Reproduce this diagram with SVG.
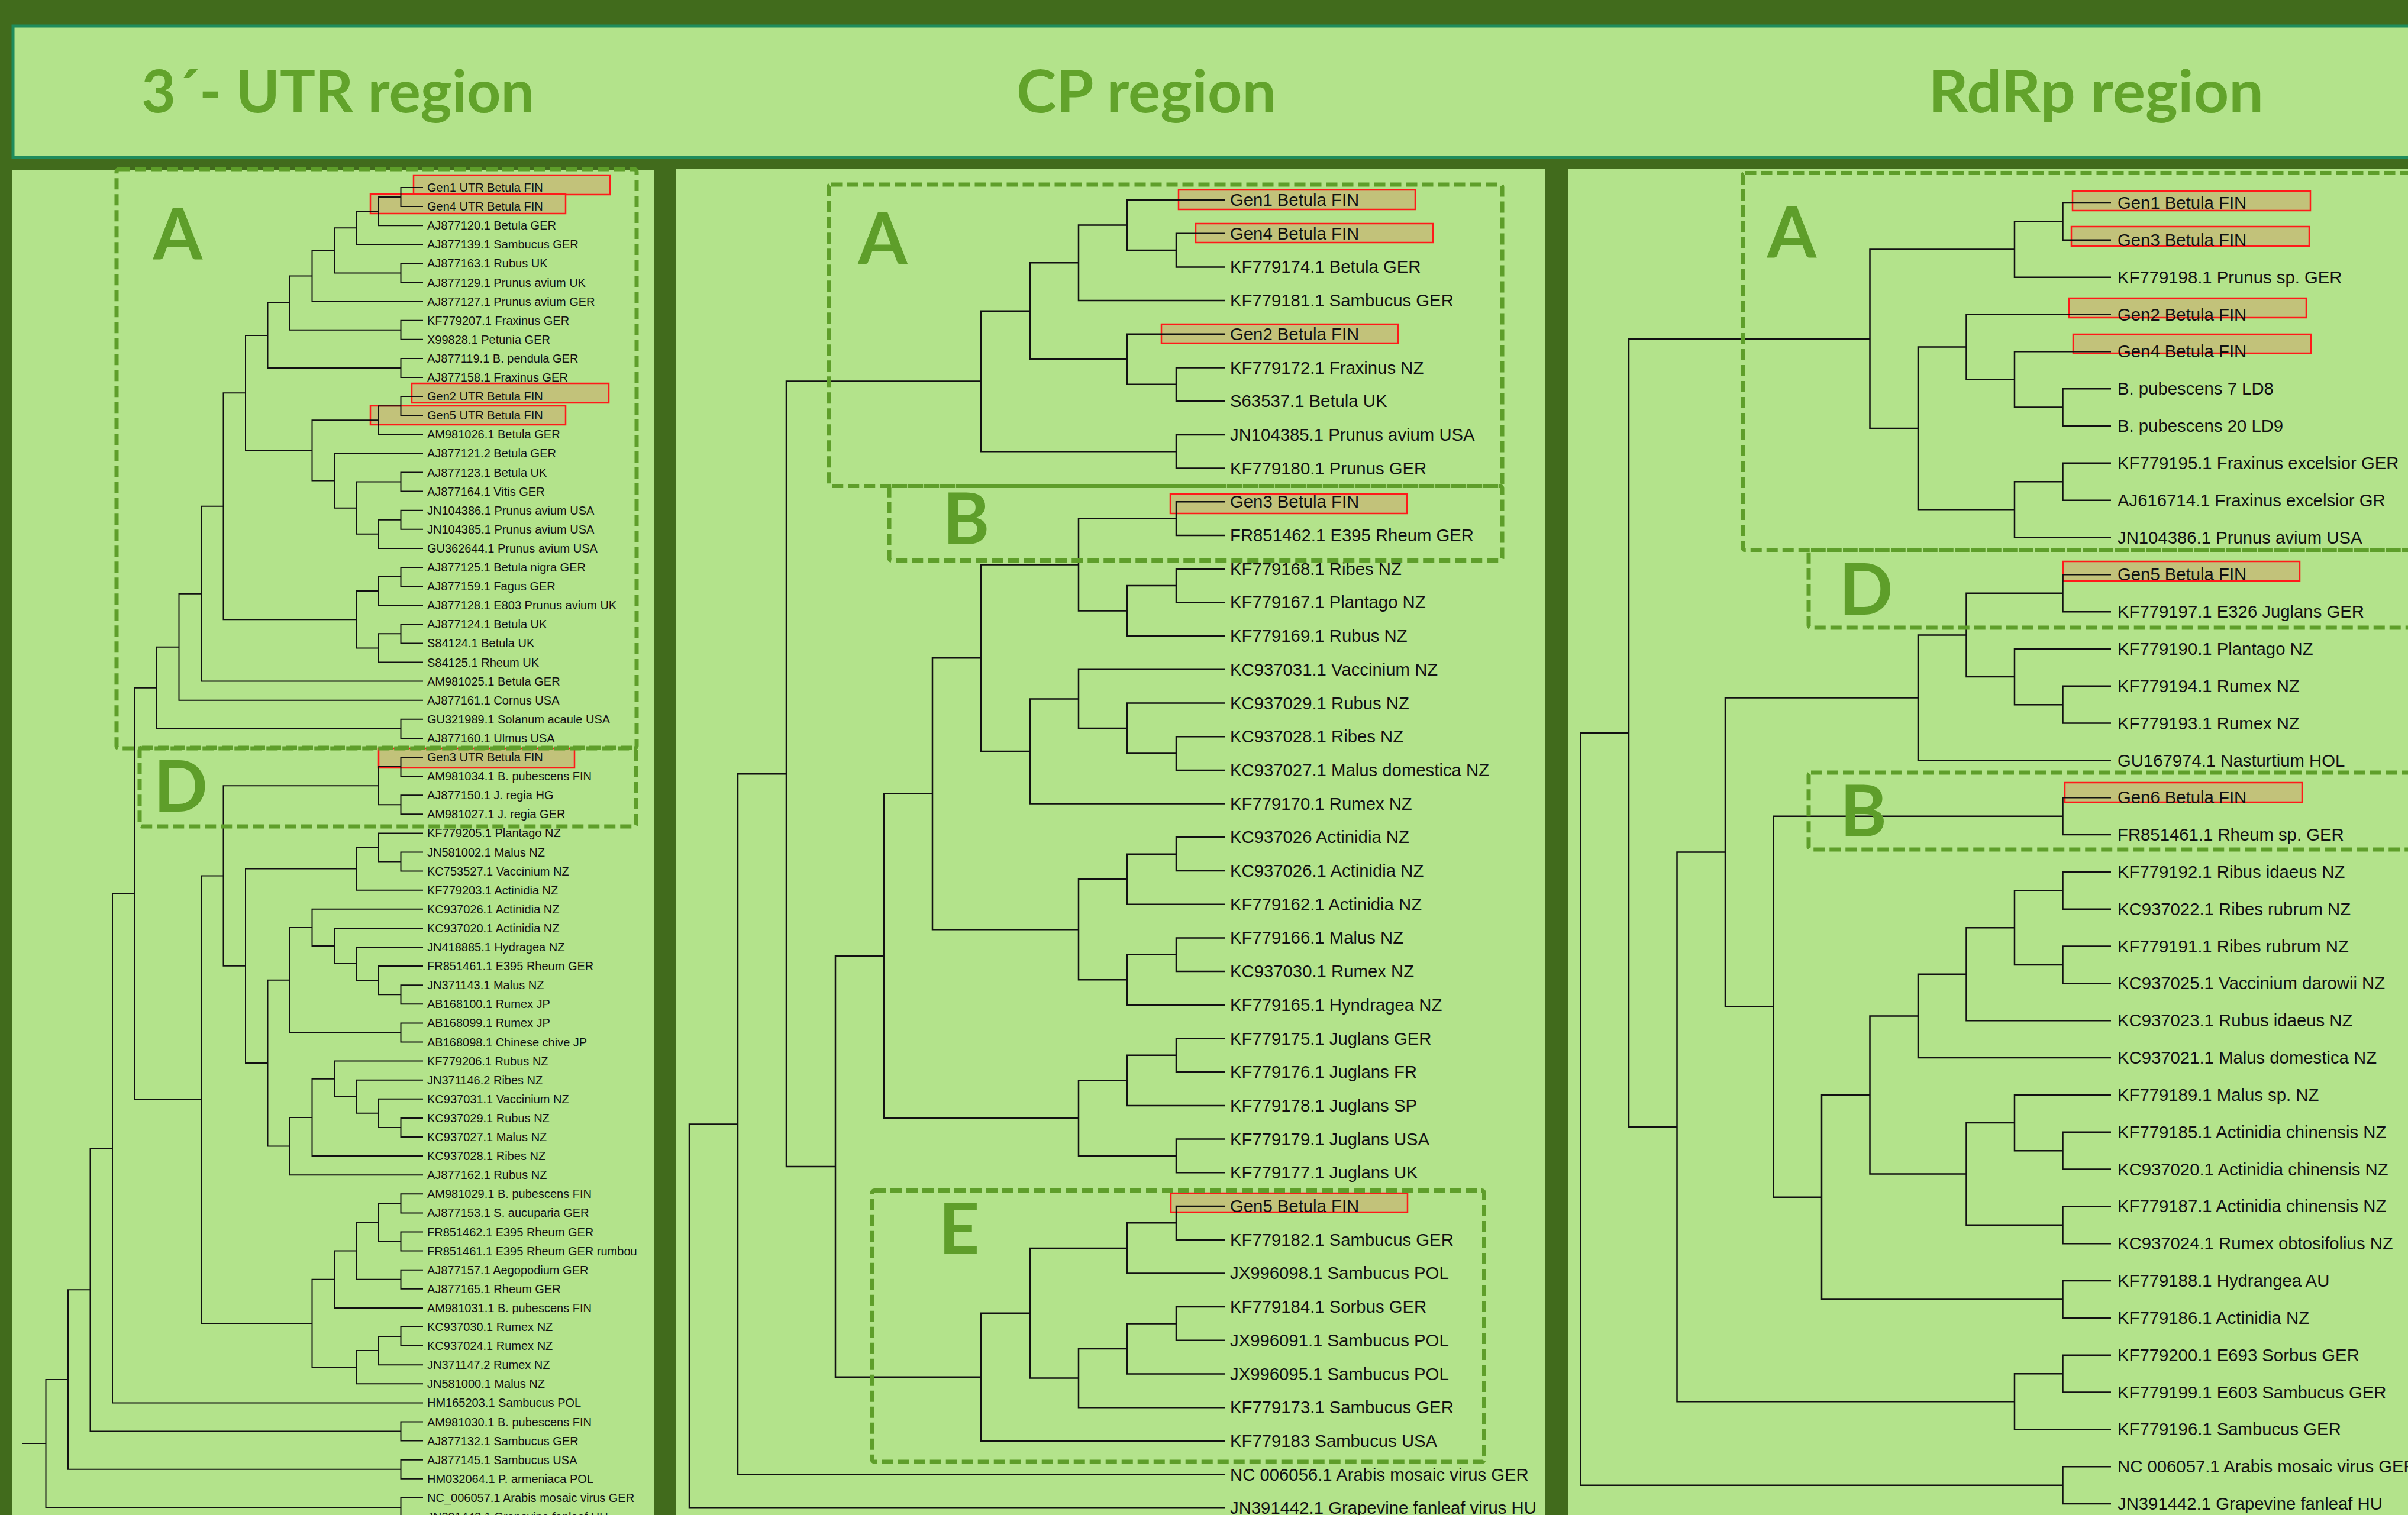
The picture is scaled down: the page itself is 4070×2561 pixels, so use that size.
<svg xmlns="http://www.w3.org/2000/svg" width="4070" height="2561" viewBox="0 0 4070 2561">
<style>
.tl{fill:none;stroke:#111;stroke-linejoin:miter}
.t1{font-family:"Liberation Sans",Arial,sans-serif;font-size:20px;fill:#111}
.t2{font-family:"Liberation Sans",Arial,sans-serif;font-size:29.3px;fill:#111}
.hl{fill:#c2c27a;stroke:#ff1a1a;stroke-width:2.5}
.db{fill:none;stroke:#5e9e2a;stroke-width:7;stroke-dasharray:19 8}
.cl{font-family:Lato,"Liberation Sans",sans-serif;font-weight:bold;font-size:120px;fill:#5e9e2a;text-anchor:middle}
.ti{font-family:Lato,"Liberation Sans",sans-serif;font-weight:bold;font-size:99px;fill:#62a32b}
.pn{fill:#b3e38b}
</style>
<rect x="0" y="0" width="4070" height="2561" fill="#416b1c"/>
<g id="header">
<rect x="22" y="44" width="4100" height="222" fill="#b3e38b" stroke="#1f8c5c" stroke-width="5"/>
<text class="ti" x="239" y="190" textLength="664" lengthAdjust="spacingAndGlyphs">3´- UTR region</text>
<text class="ti" x="1718" y="190" textLength="439" lengthAdjust="spacingAndGlyphs">CP region</text>
<text class="ti" x="3260" y="190" textLength="566" lengthAdjust="spacingAndGlyphs">RdRp region</text>
</g>
<g id="panels">
<rect class="pn" x="21" y="288" width="1084" height="2280"/>
<rect class="pn" x="1142" y="286" width="1469" height="2280"/>
<rect class="pn" x="2650" y="286" width="1430" height="2280"/>
</g>

<g id="utr-labels" class="t1">
<g id="utr-0"><rect class="hl" x="699" y="296" width="332" height="33"/><text x="722" y="324">Gen1 UTR Betula FIN</text></g>
<g id="utr-1"><rect class="hl" x="626" y="328" width="330" height="33"/><text x="722" y="356.1">Gen4 UTR Betula FIN</text></g>
<g id="utr-2"><text x="722" y="388.2">AJ877120.1 Betula GER</text></g>
<g id="utr-3"><text x="722" y="420.3">AJ877139.1 Sambucus GER</text></g>
<g id="utr-4"><text x="722" y="452.4">AJ877163.1 Rubus UK</text></g>
<g id="utr-5"><text x="722" y="484.5">AJ877129.1 Prunus avium UK</text></g>
<g id="utr-6"><text x="722" y="516.6">AJ877127.1 Prunus avium GER</text></g>
<g id="utr-7"><text x="722" y="548.7">KF779207.1 Fraxinus GER</text></g>
<g id="utr-8"><text x="722" y="580.8">X99828.1 Petunia GER</text></g>
<g id="utr-9"><text x="722" y="612.9">AJ877119.1 B. pendula GER</text></g>
<g id="utr-10"><text x="722" y="645">AJ877158.1 Fraxinus GER</text></g>
<g id="utr-11"><rect class="hl" x="696" y="648" width="333" height="33"/><text x="722" y="677.1">Gen2 UTR Betula FIN</text></g>
<g id="utr-12"><rect class="hl" x="626" y="686" width="330" height="32"/><text x="722" y="709.2">Gen5 UTR Betula FIN</text></g>
<g id="utr-13"><text x="722" y="741.3">AM981026.1 Betula GER</text></g>
<g id="utr-14"><text x="722" y="773.4">AJ877121.2 Betula GER</text></g>
<g id="utr-15"><text x="722" y="805.5">AJ877123.1 Betula UK</text></g>
<g id="utr-16"><text x="722" y="837.6">AJ877164.1 Vitis GER</text></g>
<g id="utr-17"><text x="722" y="869.7">JN104386.1 Prunus avium USA</text></g>
<g id="utr-18"><text x="722" y="901.8">JN104385.1 Prunus avium USA</text></g>
<g id="utr-19"><text x="722" y="933.9">GU362644.1 Prunus avium USA</text></g>
<g id="utr-20"><text x="722" y="966">AJ877125.1 Betula nigra GER</text></g>
<g id="utr-21"><text x="722" y="998.1">AJ877159.1 Fagus GER</text></g>
<g id="utr-22"><text x="722" y="1030.2">AJ877128.1 E803 Prunus avium UK</text></g>
<g id="utr-23"><text x="722" y="1062.3">AJ877124.1 Betula UK</text></g>
<g id="utr-24"><text x="722" y="1094.4">S84124.1 Betula UK</text></g>
<g id="utr-25"><text x="722" y="1126.5">S84125.1 Rheum UK</text></g>
<g id="utr-26"><text x="722" y="1158.6">AM981025.1 Betula GER</text></g>
<g id="utr-27"><text x="722" y="1190.7">AJ877161.1 Cornus USA</text></g>
<g id="utr-28"><text x="722" y="1222.8">GU321989.1 Solanum acaule USA</text></g>
<g id="utr-29"><text x="722" y="1254.9">AJ877160.1 Ulmus USA</text></g>
<g id="utr-30"><rect class="hl" x="640" y="1265" width="331" height="33"/><text x="722" y="1287">Gen3 UTR Betula FIN</text></g>
<g id="utr-31"><text x="722" y="1319.1">AM981034.1 B. pubescens FIN</text></g>
<g id="utr-32"><text x="722" y="1351.2">AJ877150.1 J. regia HG</text></g>
<g id="utr-33"><text x="722" y="1383.3">AM981027.1 J. regia GER</text></g>
<g id="utr-34"><text x="722" y="1415.4">KF779205.1 Plantago NZ</text></g>
<g id="utr-35"><text x="722" y="1447.5">JN581002.1 Malus NZ</text></g>
<g id="utr-36"><text x="722" y="1479.6">KC753527.1 Vaccinium NZ</text></g>
<g id="utr-37"><text x="722" y="1511.7">KF779203.1 Actinidia NZ</text></g>
<g id="utr-38"><text x="722" y="1543.8">KC937026.1 Actinidia NZ</text></g>
<g id="utr-39"><text x="722" y="1575.9">KC937020.1 Actinidia NZ</text></g>
<g id="utr-40"><text x="722" y="1608">JN418885.1 Hydragea NZ</text></g>
<g id="utr-41"><text x="722" y="1640.1">FR851461.1 E395 Rheum GER</text></g>
<g id="utr-42"><text x="722" y="1672.2">JN371143.1 Malus NZ</text></g>
<g id="utr-43"><text x="722" y="1704.3">AB168100.1 Rumex JP</text></g>
<g id="utr-44"><text x="722" y="1736.4">AB168099.1 Rumex JP</text></g>
<g id="utr-45"><text x="722" y="1768.5">AB168098.1 Chinese chive JP</text></g>
<g id="utr-46"><text x="722" y="1800.6">KF779206.1 Rubus NZ</text></g>
<g id="utr-47"><text x="722" y="1832.7">JN371146.2 Ribes NZ</text></g>
<g id="utr-48"><text x="722" y="1864.8">KC937031.1 Vaccinium NZ</text></g>
<g id="utr-49"><text x="722" y="1896.9">KC937029.1 Rubus NZ</text></g>
<g id="utr-50"><text x="722" y="1929">KC937027.1 Malus NZ</text></g>
<g id="utr-51"><text x="722" y="1961.1">KC937028.1 Ribes NZ</text></g>
<g id="utr-52"><text x="722" y="1993.2">AJ877162.1 Rubus NZ</text></g>
<g id="utr-53"><text x="722" y="2025.3">AM981029.1 B. pubescens FIN</text></g>
<g id="utr-54"><text x="722" y="2057.4">AJ877153.1 S. aucuparia GER</text></g>
<g id="utr-55"><text x="722" y="2089.5">FR851462.1 E395 Rheum GER</text></g>
<g id="utr-56"><text x="722" y="2121.6">FR851461.1 E395 Rheum GER rumbou</text></g>
<g id="utr-57"><text x="722" y="2153.7">AJ877157.1 Aegopodium GER</text></g>
<g id="utr-58"><text x="722" y="2185.8">AJ877165.1 Rheum GER</text></g>
<g id="utr-59"><text x="722" y="2217.9">AM981031.1 B. pubescens FIN</text></g>
<g id="utr-60"><text x="722" y="2250">KC937030.1 Rumex NZ</text></g>
<g id="utr-61"><text x="722" y="2282.1">KC937024.1 Rumex NZ</text></g>
<g id="utr-62"><text x="722" y="2314.2">JN371147.2 Rumex NZ</text></g>
<g id="utr-63"><text x="722" y="2346.3">JN581000.1 Malus NZ</text></g>
<g id="utr-64"><text x="722" y="2378.4">HM165203.1 Sambucus POL</text></g>
<g id="utr-65"><text x="722" y="2410.5">AM981030.1 B. pubescens FIN</text></g>
<g id="utr-66"><text x="722" y="2442.6">AJ877132.1 Sambucus GER</text></g>
<g id="utr-67"><text x="722" y="2474.7">AJ877145.1 Sambucus USA</text></g>
<g id="utr-68"><text x="722" y="2506.8">HM032064.1 P. armeniaca POL</text></g>
<g id="utr-69"><text x="722" y="2538.9">NC_006057.1 Arabis mosaic virus GER</text></g>
<g id="utr-70"><text x="722" y="2571">JN391442.1 Grapevine fanleaf HU</text></g>
</g>

<g id="cp-labels" class="t2">
<g id="cp-0"><rect class="hl" x="1992" y="321" width="400" height="33"/><text x="2079" y="348">Gen1 Betula FIN</text></g>
<g id="cp-1"><rect class="hl" x="2021" y="378" width="401" height="32"/><text x="2079" y="404.7">Gen4 Betula FIN</text></g>
<g id="cp-2"><text x="2079" y="461.4">KF779174.1 Betula GER</text></g>
<g id="cp-3"><text x="2079" y="518.1">KF779181.1 Sambucus GER</text></g>
<g id="cp-4"><rect class="hl" x="1963" y="548" width="400" height="32"/><text x="2079" y="574.8">Gen2 Betula FIN</text></g>
<g id="cp-5"><text x="2079" y="631.5">KF779172.1 Fraxinus NZ</text></g>
<g id="cp-6"><text x="2079" y="688.2">S63537.1 Betula UK</text></g>
<g id="cp-7"><text x="2079" y="744.9">JN104385.1 Prunus avium USA</text></g>
<g id="cp-8"><text x="2079" y="801.6">KF779180.1 Prunus GER</text></g>
<g id="cp-9"><rect class="hl" x="1978" y="835" width="400" height="33"/><text x="2079" y="858.3">Gen3 Betula FIN</text></g>
<g id="cp-10"><text x="2079" y="915">FR851462.1 E395 Rheum GER</text></g>
<g id="cp-11"><text x="2079" y="971.7">KF779168.1 Ribes NZ</text></g>
<g id="cp-12"><text x="2079" y="1028.4">KF779167.1 Plantago NZ</text></g>
<g id="cp-13"><text x="2079" y="1085.1">KF779169.1 Rubus NZ</text></g>
<g id="cp-14"><text x="2079" y="1141.8">KC937031.1 Vaccinium NZ</text></g>
<g id="cp-15"><text x="2079" y="1198.5">KC937029.1 Rubus NZ</text></g>
<g id="cp-16"><text x="2079" y="1255.2">KC937028.1 Ribes NZ</text></g>
<g id="cp-17"><text x="2079" y="1311.9">KC937027.1 Malus domestica NZ</text></g>
<g id="cp-18"><text x="2079" y="1368.6">KF779170.1 Rumex NZ</text></g>
<g id="cp-19"><text x="2079" y="1425.3">KC937026 Actinidia NZ</text></g>
<g id="cp-20"><text x="2079" y="1482">KC937026.1 Actinidia NZ</text></g>
<g id="cp-21"><text x="2079" y="1538.7">KF779162.1 Actinidia NZ</text></g>
<g id="cp-22"><text x="2079" y="1595.4">KF779166.1 Malus NZ</text></g>
<g id="cp-23"><text x="2079" y="1652.1">KC937030.1 Rumex NZ</text></g>
<g id="cp-24"><text x="2079" y="1708.8">KF779165.1 Hyndragea NZ</text></g>
<g id="cp-25"><text x="2079" y="1765.5">KF779175.1 Juglans GER</text></g>
<g id="cp-26"><text x="2079" y="1822.2">KF779176.1 Juglans FR</text></g>
<g id="cp-27"><text x="2079" y="1878.9">KF779178.1 Juglans SP</text></g>
<g id="cp-28"><text x="2079" y="1935.6">KF779179.1 Juglans USA</text></g>
<g id="cp-29"><text x="2079" y="1992.3">KF779177.1 Juglans UK</text></g>
<g id="cp-30"><rect class="hl" x="1979" y="2017" width="400" height="32"/><text x="2079" y="2049">Gen5 Betula FIN</text></g>
<g id="cp-31"><text x="2079" y="2105.7">KF779182.1 Sambucus GER</text></g>
<g id="cp-32"><text x="2079" y="2162.4">JX996098.1 Sambucus POL</text></g>
<g id="cp-33"><text x="2079" y="2219.1">KF779184.1 Sorbus GER</text></g>
<g id="cp-34"><text x="2079" y="2275.8">JX996091.1 Sambucus POL</text></g>
<g id="cp-35"><text x="2079" y="2332.5">JX996095.1 Sambucus POL</text></g>
<g id="cp-36"><text x="2079" y="2389.2">KF779173.1 Sambucus GER</text></g>
<g id="cp-37"><text x="2079" y="2445.9">KF779183 Sambucus USA</text></g>
<g id="cp-38"><text x="2079" y="2502.6">NC 006056.1 Arabis mosaic virus GER</text></g>
<g id="cp-39"><text x="2079" y="2559.3">JN391442.1 Grapevine fanleaf virus HU</text></g>
</g>

<g id="rdrp-labels" class="t2">
<g id="rd-0"><rect class="hl" x="3503" y="323" width="402" height="33"/><text x="3579" y="353">Gen1 Betula FIN</text></g>
<g id="rd-1"><rect class="hl" x="3501" y="383" width="402" height="33"/><text x="3579" y="415.8">Gen3 Betula FIN</text></g>
<g id="rd-2"><text x="3579" y="478.7">KF779198.1 Prunus sp. GER</text></g>
<g id="rd-3"><rect class="hl" x="3497" y="504" width="401" height="33"/><text x="3579" y="541.5">Gen2 Betula FIN</text></g>
<g id="rd-4"><rect class="hl" x="3504" y="565" width="402" height="32"/><text x="3579" y="604.3">Gen4 Betula FIN</text></g>
<g id="rd-5"><text x="3579" y="667.2">B. pubescens 7 LD8</text></g>
<g id="rd-6"><text x="3579" y="730">B. pubescens 20 LD9</text></g>
<g id="rd-7"><text x="3579" y="792.8">KF779195.1 Fraxinus excelsior GER</text></g>
<g id="rd-8"><text x="3579" y="855.6">AJ616714.1 Fraxinus excelsior GR</text></g>
<g id="rd-9"><text x="3579" y="918.5">JN104386.1 Prunus avium USA</text></g>
<g id="rd-10"><rect class="hl" x="3487" y="949" width="400" height="33"/><text x="3579" y="981.3">Gen5 Betula FIN</text></g>
<g id="rd-11"><text x="3579" y="1044.1">KF779197.1 E326 Juglans GER</text></g>
<g id="rd-12"><text x="3579" y="1107">KF779190.1 Plantago NZ</text></g>
<g id="rd-13"><text x="3579" y="1169.8">KF779194.1 Rumex NZ</text></g>
<g id="rd-14"><text x="3579" y="1232.6">KF779193.1 Rumex NZ</text></g>
<g id="rd-15"><text x="3579" y="1295.5">GU167974.1 Nasturtium HOL</text></g>
<g id="rd-16"><rect class="hl" x="3490" y="1323" width="401" height="33"/><text x="3579" y="1358.3">Gen6 Betula FIN</text></g>
<g id="rd-17"><text x="3579" y="1421.1">FR851461.1 Rheum sp. GER</text></g>
<g id="rd-18"><text x="3579" y="1483.9">KF779192.1 Ribus idaeus NZ</text></g>
<g id="rd-19"><text x="3579" y="1546.8">KC937022.1 Ribes rubrum NZ</text></g>
<g id="rd-20"><text x="3579" y="1609.6">KF779191.1 Ribes rubrum NZ</text></g>
<g id="rd-21"><text x="3579" y="1672.4">KC937025.1 Vaccinium darowii NZ</text></g>
<g id="rd-22"><text x="3579" y="1735.3">KC937023.1 Rubus idaeus NZ</text></g>
<g id="rd-23"><text x="3579" y="1798.1">KC937021.1 Malus domestica NZ</text></g>
<g id="rd-24"><text x="3579" y="1860.9">KF779189.1 Malus sp. NZ</text></g>
<g id="rd-25"><text x="3579" y="1923.8">KF779185.1 Actinidia chinensis NZ</text></g>
<g id="rd-26"><text x="3579" y="1986.6">KC937020.1 Actinidia chinensis NZ</text></g>
<g id="rd-27"><text x="3579" y="2049.4">KF779187.1 Actinidia chinensis NZ</text></g>
<g id="rd-28"><text x="3579" y="2112.2">KC937024.1 Rumex obtosifolius NZ</text></g>
<g id="rd-29"><text x="3579" y="2175.1">KF779188.1 Hydrangea AU</text></g>
<g id="rd-30"><text x="3579" y="2237.9">KF779186.1 Actinidia NZ</text></g>
<g id="rd-31"><text x="3579" y="2300.7">KF779200.1 E693 Sorbus GER</text></g>
<g id="rd-32"><text x="3579" y="2363.6">KF779199.1 E603 Sambucus GER</text></g>
<g id="rd-33"><text x="3579" y="2426.4">KF779196.1 Sambucus GER</text></g>
<g id="rd-34"><text x="3579" y="2489.2">NC 006057.1 Arabis mosaic virus GER</text></g>
<g id="rd-35"><text x="3579" y="2552.1">JN391442.1 Grapevine fanleaf HU</text></g>
</g>

<g id="connectors">
<g transform="translate(0,317) scale(1,32.1)">
<path class="tl" vector-effect="non-scaling-stroke" stroke-width="2" d="M715,0H677.5V1H715 M677.5,0.5H640V2H715 M640,1.25H602.5V3H715 M715,4H677.5V5H715 M602.5,2.125H565V4.5H677.5 M565,3.3125H527.5V6H715 M715,7H677.5V8H715 M527.5,4.65625H490V7.5H677.5 M715,9H677.5V10H715 M490,6.078125H452.5V9.5H677.5 M715,11H677.5V12H715 M677.5,11.5H640V13H715 M715,15H677.5V16H715 M715,17H677.5V18H715 M677.5,17.5H640V19H715 M677.5,15.5H602.5V18.25H640 M715,14H565V16.875H602.5 M640,12.25H527.5V15.4375H565 M452.5,7.7890625H415V13.84375H527.5 M715,20H677.5V21H715 M677.5,20.5H640V22H715 M715,23H677.5V24H715 M677.5,23.5H640V25H715 M640,21.25H602.5V24.25H640 M415,10.8164H377.5V22.75H602.5 M377.5,16.7832H340V26H715 M340,21.3916H302.5V27H715 M715,28H677.5V29H715 M302.5,24.1958H265V28.5H677.5 M715,30H677.5V31H715 M715,32H677.5V33H715 M677.5,30.5H640V32.5H677.5 M715,35H677.5V36H715 M715,34H640V35.5H677.5 M640,34.75H602.5V37H715 M715,42H677.5V43H715 M715,41H640V42.5H677.5 M715,40H602.5V41.75H640 M715,39H565V40.875H602.5 M715,38H527.5V39.9375H565 M715,44H677.5V45H715 M527.5,38.96875H490V44.5H677.5 M715,49H677.5V50H715 M715,48H640V49.5H677.5 M715,47H602.5V48.75H640 M715,46H565V47.875H602.5 M565,46.9375H527.5V51H715 M527.5,48.96875H490V52H715 M490,41.734375H452.5V50.484375H490 M602.5,35.875H415V46.109375H452.5 M640,31.5H377.5V40.9922H415 M715,53H677.5V54H715 M715,55H677.5V56H715 M677.5,53.5H640V55.5H677.5 M715,57H677.5V58H715 M640,54.5H602.5V57.5H677.5 M602.5,56H565V59H715 M715,60H677.5V61H715 M677.5,60.5H640V62H715 M640,61.25H602.5V63H715 M565,57.5H527.5V62.125H602.5 M377.5,36.2461H340V59.8125H527.5 M265,26.3479H227.5V48.0293H340 M227.5,37.1886H190V64H715 M715,65H677.5V66H715 M190,50.5943H152.5V65.5H677.5 M715,67H677.5V68H715 M152.5,58.0472H115V67.5H677.5 M715,69H677.5V70H715 M115,62.7736H77.5V69.5H677.5 M77.5,66.1368H37.5"/>
</g>
<g transform="translate(0,338) scale(1,56.7)">
<path class="tl" vector-effect="non-scaling-stroke" stroke-width="2.5" d="M2070,1H1988V2H2070 M2070,0H1905V1.5H1988 M1905,0.75H1823V3H2070 M2070,5H1988V6H2070 M2070,4H1905V5.5H1988 M1823,1.875H1741V4.75H1905 M2070,7H1988V8H2070 M1741,3.3125H1658V7.5H1988 M2070,9H1988V10H2070 M2070,11H1988V12H2070 M1988,11.5H1905V13H2070 M1988,9.5H1823V12.25H1905 M2070,16H1988V17H2070 M2070,15H1905V16.5H1988 M2070,14H1823V15.75H1905 M1823,14.875H1741V18H2070 M1823,10.875H1658V16.4375H1741 M2070,19H1988V20H2070 M1988,19.5H1905V21H2070 M2070,22H1988V23H2070 M1988,22.5H1905V24H2070 M1905,20.25H1823V23.25H1905 M1658,13.65625H1576V21.75H1823 M2070,25H1988V26H2070 M1988,25.5H1905V27H2070 M2070,28H1988V29H2070 M1905,26.25H1823V28.5H1988 M1576,17.703125H1494V27.375H1823 M2070,30H1988V31H2070 M1988,30.5H1905V32H2070 M2070,33H1988V34H2070 M1988,33.5H1905V35H2070 M1905,34.25H1823V36H2070 M1905,31.25H1741V35.125H1823 M1741,33.1875H1658V37H2070 M1494,22.5390625H1412V35.09375H1658 M1658,5.40625H1329V28.8164H1412 M1329,17.1113H1247V38H2070 M1247,27.5557H1165V39H2070"/>
</g>
<g transform="translate(0,343) scale(1,62.83)">
<path class="tl" vector-effect="non-scaling-stroke" stroke-width="2.5" d="M3568,0H3486.5V1H3568 M3486.5,0.5H3405V2H3568 M3568,5H3486.5V6H3568 M3568,4H3405V5.5H3486.5 M3568,3H3323.5V4.75H3405 M3568,7H3486.5V8H3568 M3486.5,7.5H3405V9H3568 M3323.5,3.875H3242V8.25H3405 M3405,1.25H3160.5V6.0625H3242 M3568,10H3486.5V11H3568 M3568,13H3486.5V14H3568 M3568,12H3405V13.5H3486.5 M3486.5,10.5H3323.5V12.75H3405 M3323.5,11.625H3242V15H3568 M3568,16H3486.5V17H3568 M3568,18H3486.5V19H3568 M3568,20H3486.5V21H3568 M3486.5,18.5H3405V20.5H3486.5 M3405,19.5H3323.5V22H3568 M3323.5,20.75H3242V23H3568 M3568,25H3486.5V26H3568 M3568,24H3405V25.5H3486.5 M3568,27H3486.5V28H3568 M3405,24.75H3323.5V27.5H3486.5 M3242,21.875H3160.5V26.125H3323.5 M3568,29H3486.5V30H3568 M3160.5,24H3079V29.5H3486.5 M3486.5,16.5H2997.5V26.75H3079 M3242,13.3125H2916V21.625H2997.5 M3568,31H3486.5V32H3568 M3486.5,31.5H3405V33H3568 M2916,17.46875H2834.5V32.25H3405 M3160.5,3.65625H2753V24.859375H2834.5 M3568,34H3486.5V35H3568 M2753,14.2578H2671.5V34.5H3486.5"/>
</g>
</g>

<g id="clades">
<rect class="db" x="197" y="286" width="879" height="979" rx="4"/>
<rect class="db" x="236" y="1264" width="839" height="133" rx="4"/>
<text class="cl" x="300.5" y="439">A</text>
<text class="cl" x="305.5" y="1372">D</text>
<rect class="db" x="1400.5" y="312" width="1138.5" height="509.5" rx="4"/>
<rect class="db" x="1503" y="821.5" width="1036" height="126" rx="4"/>
<rect class="db" x="1474" y="2012.5" width="1034.5" height="458.5" rx="4"/>
<text class="cl" x="1492" y="447">A</text>
<text class="cl" x="1633" y="920">B</text>
<text class="cl" x="1621" y="2120">E</text>
<rect class="db" x="2945.5" y="292.6" width="1200" height="637" rx="4"/>
<rect class="db" x="3057" y="929.5" width="1100" height="131.5" rx="4"/>
<rect class="db" x="3057" y="1306" width="1100" height="130" rx="4"/>
<text class="cl" x="3028.5" y="436">A</text>
<text class="cl" x="3154" y="1039">D</text>
<text class="cl" x="3149.5" y="1414">B</text>
</g>
</svg>
